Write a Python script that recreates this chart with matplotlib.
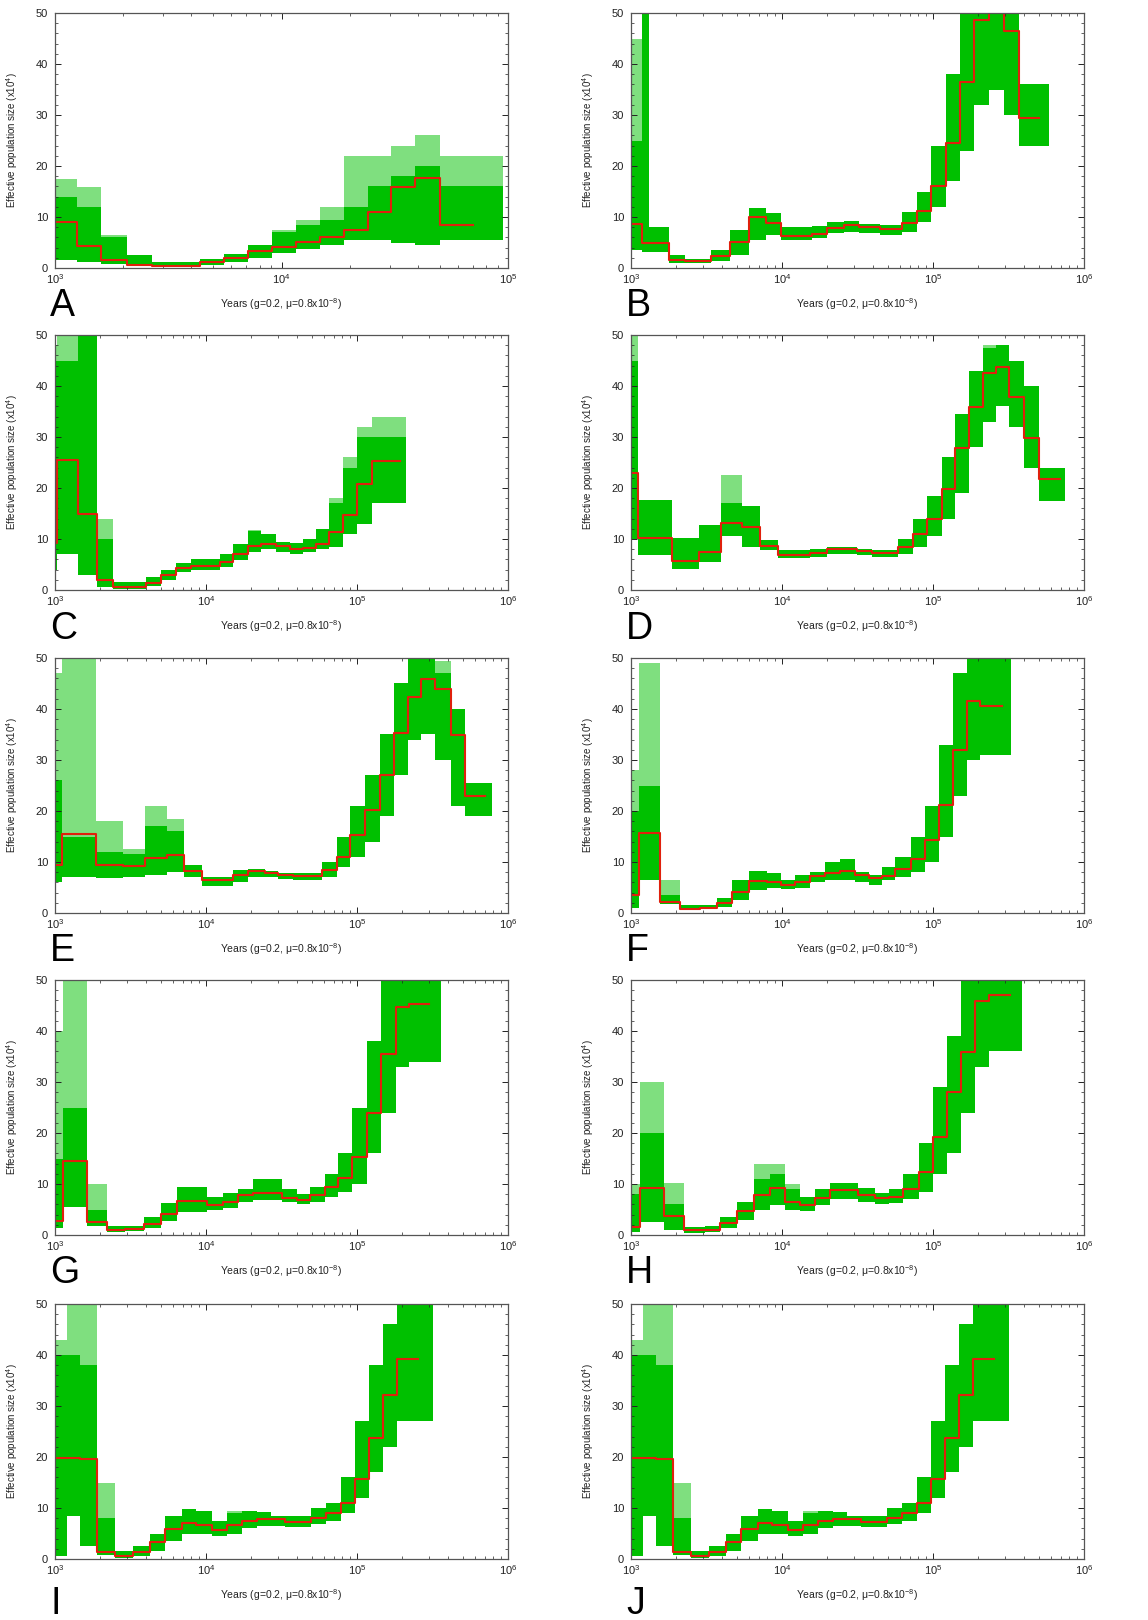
import matplotlib
matplotlib.use("Agg")
import matplotlib.pyplot as plt
from matplotlib.ticker import LogLocator, NullFormatter, MultipleLocator

plt.rcParams['font.family'] = ['Liberation Sans', 'DejaVu Sans']
plt.rcParams['mathtext.fontset'] = 'custom'
plt.rcParams['mathtext.rm'] = 'Liberation Sans'
plt.rcParams['mathtext.it'] = 'Liberation Sans:italic'

GREEN = '#00c000'
RED = '#e0200c'

# t = step start times (years, last = end of red line), ne = red line (x10^4)
# lo/hi = dense part of the bootstrap bundle, top = sparse upper outliers
A_t = [1000, 1250, 1600, 2070, 2670, 4360, 5570, 7080, 9100, 11600, 14800, 18800, 24000, 30500, 39000, 50000, 70000]
A_ne = [9.1, 4.4, 1.6, 0.65, 0.4, 1.2, 2.0, 3.3, 4.2, 5.1, 6.1, 7.5, 11.0, 15.9, 17.7, 8.5]
A_lo = [1.5, 1.2, 0.8, 0.3, 0.1, 0.6, 1.2, 2.0, 3.0, 3.8, 4.5, 5.5, 5.5, 5.0, 4.5, 5.5]
A_hi = [14, 12, 6, 2.5, 1.2, 1.8, 2.8, 4.5, 7.0, 8.5, 9.5, 12, 16, 18, 20, 16]
A_top = [17.5, 15.9, 6.5, 2.5, 1.2, 1.8, 2.8, 4.5, 7.4, 9.5, 12, 22, 22, 24, 26, 22]
A_gend = 95000

B_t = [1000, 1180, 1310, 1780, 2290, 3410, 4550, 6080, 7890, 9910, 15800, 19900, 25700, 32300, 44900, 62500, 78500,
       97300, 121000, 152000, 187000, 235000, 295000, 371000, 503000]
B_ne = [8.7, 4.9, 4.9, 1.6, 1.3, 2.3, 5.1, 10.0, 8.9, 6.3, 6.6, 7.8, 8.4, 8.0, 7.6, 8.8, 11.1, 16.0, 24.6, 36.5, 48.6,
        58, 46.5, 29.5]
B_lo = [3.5, 3.2, 3.2, 1.0, 0.9, 1.3, 2.5, 5.5, 6.5, 5.5, 5.8, 6.8, 7.0, 6.8, 6.5, 7.0, 9.0, 12, 17, 23, 32, 35, 30, 24]
B_hi = [25, 60, 8.0, 2.5, 1.8, 3.5, 7.5, 11.8, 10.8, 8.0, 8.3, 9.0, 9.2, 8.7, 8.5, 11, 15, 24, 38, 55, 60, 60, 60, 36]
B_top = [45, 60, 8.0, 2.5, 1.8, 3.5, 7.5, 11.8, 10.8, 8.0, 8.3, 9.0, 9.2, 8.7, 8.5, 11, 15, 24, 38, 55, 60, 60, 60, 36]
B_gend = 586000

C_t = [1000, 1036, 1428, 1907, 2435, 4000, 5030, 6300, 7910, 12400, 15100, 19000, 23300, 29100, 35800, 44000, 53800,
       65600, 81200, 100500, 125000, 192000]
C_ne = [9.3, 25.5, 15.0, 2.0, 0.6, 1.4, 2.9, 4.4, 4.8, 5.5, 7.1, 8.6, 9.1, 8.6, 8.1, 8.3, 9.1, 11.3, 14.8, 20.7, 25.2]
C_lo = [4, 7, 3, 0.5, 0.2, 0.8, 2.0, 3.5, 4.0, 4.5, 5.8, 7.5, 8.0, 7.5, 7.0, 7.5, 8.0, 8.5, 11, 13, 17]
C_hi = [45, 45, 50, 10, 1.5, 2.5, 4.0, 5.2, 6.0, 7.0, 9.0, 11.5, 11.0, 9.5, 9.3, 10.0, 12.0, 17, 24, 30, 30]
C_top = [48, 55, 55, 14, 1.5, 2.5, 4.0, 5.2, 6.0, 7.0, 9.0, 11.8, 11.0, 9.5, 9.3, 10.0, 12.0, 18, 26, 32, 34]
C_gend = 212000

D_t = [1000, 1107, 1868, 2806, 3960, 5430, 7170, 9350, 15400, 19800, 31400, 39300, 58800, 73700, 91100, 114600,
       140600, 172000, 214000, 263000, 320000, 402000, 501000, 697000]
D_ne = [23.0, 10.1, 5.6, 7.5, 13.1, 12.4, 8.6, 6.9, 7.3, 8.0, 7.6, 7.2, 8.4, 11.0, 14.0, 19.9, 27.9, 35.9, 42.6, 43.7,
        37.8, 29.9, 21.7]
D_lo = [10, 6.8, 4.2, 5.5, 10.5, 8.5, 7.8, 6.2, 6.5, 7.0, 6.8, 6.5, 7.0, 8.5, 10.5, 14, 19, 28, 33, 36, 32, 24, 17.5]
D_hi = [45, 17.7, 10.2, 12.7, 17, 16.5, 9.8, 7.8, 8.0, 8.5, 8.0, 7.8, 10.0, 14, 18.5, 26, 34.5, 43, 47.5, 48, 45, 40, 24]
D_top = [55, 17.7, 10.2, 12.7, 22.5, 16.5, 9.8, 7.8, 8.0, 8.5, 8.0, 7.8, 10.0, 14, 18.5, 26, 34.5, 43, 48, 48, 45, 40, 24]
D_gend = 752000

E_t = [1000, 1107, 1868, 2835, 3945, 5490, 7170, 9350, 15100, 19000, 24500, 30000, 37700, 58800, 73300, 89400,
       112900, 141300, 175200, 219000, 265000, 328500, 417000, 519000, 704000]
E_ne = [9.4, 15.4, 9.5, 9.3, 10.7, 11.4, 8.3, 6.4, 7.5, 8.2, 7.9, 7.4, 7.2, 8.4, 11.0, 15.3, 20.2, 27.1, 35.3, 42.3,
        45.9, 43.9, 34.9, 22.9]
E_lo = [6, 7, 6.8, 7, 7.5, 8, 7, 5.2, 6.0, 7.0, 7.0, 6.7, 6.5, 7, 9, 11, 14, 19, 27, 34, 35, 30, 21, 19]
E_hi = [26, 15, 12, 11.5, 17, 16, 9.5, 7.0, 8.5, 8.7, 8.3, 7.8, 7.8, 10, 15, 21, 27, 35, 45, 50, 50, 47, 40, 25.5]
E_top = [47, 50, 18, 12.5, 21, 18.5, 9.5, 7.0, 8.5, 8.7, 8.3, 7.8, 7.8, 10, 15, 21, 27, 35, 45, 52, 52, 49.5, 40, 25.5]
E_gend = 779000

F_t = [1000, 1136, 1548, 2099, 2880, 3710, 4660, 6010, 7940, 9850, 12260, 15380, 19360, 24250, 30300, 37500, 45900,
       56300, 71500, 89000, 109000, 135700, 166700, 206100, 286000]
F_ne = [3.5, 15.7, 2.2, 0.85, 1.0, 2.0, 4.1, 6.3, 6.1, 5.4, 6.0, 7.3, 7.9, 8.3, 7.5, 6.8, 7.3, 8.7, 10.6, 14.3, 21.2,
        32.0, 41.6, 40.5]
F_lo = [1.0, 6.5, 1.8, 0.5, 0.7, 1.2, 2.5, 4.5, 5.0, 4.8, 5.0, 6.0, 6.5, 6.5, 6.0, 5.5, 6.5, 7.0, 8.0, 10, 15, 23, 30, 31]
F_hi = [20, 25, 3.5, 1.5, 1.5, 3.0, 6.5, 8.2, 7.8, 6.5, 7.5, 8.0, 10, 10.5, 8.0, 7.5, 9.0, 11, 15, 21, 33, 47, 52, 52]
F_top = [28, 49, 6.5, 1.5, 1.5, 3.0, 6.5, 8.2, 7.8, 6.5, 7.5, 8.0, 10, 10.5, 8.0, 7.5, 9.0, 11, 15, 21, 33, 47, 52, 52]
F_gend = 328500

G_t = [1000, 1136, 1637, 2219, 2906, 3883, 5030, 6389, 10100, 12900, 16400, 20500, 31700, 39800, 48700, 61400,
       75200, 92000, 115900, 143500, 180400, 220000, 300300]
G_ne = [2.7, 14.5, 2.6, 0.9, 1.2, 2.2, 4.2, 6.6, 5.9, 6.5, 7.8, 8.2, 7.3, 6.8, 7.9, 9.4, 11.1, 15.3, 24.0, 35.5, 44.8,
        45.3]
G_lo = [1.3, 5.5, 1.8, 0.6, 0.8, 1.4, 2.8, 4.5, 5.0, 5.2, 6.5, 6.8, 6.5, 6.0, 6.5, 7.5, 8.5, 10, 16, 24, 33, 34]
G_hi = [15, 25, 5, 1.8, 1.8, 3.5, 6.3, 9.5, 7.5, 8.3, 9.0, 11, 9.0, 8.0, 9.5, 12, 16, 25, 38, 55, 55, 55]
G_top = [40, 55, 10, 1.8, 1.8, 3.5, 6.3, 9.5, 7.5, 8.3, 9.0, 11, 9.0, 8.0, 9.5, 12, 16, 25, 38, 55, 55, 55]
G_gend = 358000

H_t = [1000, 1153, 1645, 2234, 3105, 3906, 5030, 6490, 8267, 10530, 13210, 16600, 20900, 32040, 41390, 50900,
       63300, 80400, 100000, 123800, 154000, 190600, 235000, 325000]
H_ne = [1.5, 9.2, 3.7, 0.9, 1.0, 2.4, 4.7, 7.8, 9.2, 6.5, 5.8, 7.3, 8.8, 7.8, 7.2, 7.5, 9.0, 12.3, 19.3, 28.1, 35.9,
        45.9, 47.1]
H_lo = [0.5, 2.5, 1.0, 0.3, 0.5, 1.3, 3.0, 5.0, 5.8, 5.0, 4.8, 5.8, 7.0, 6.5, 6.0, 6.3, 7.0, 8.5, 12, 16, 24, 33, 36]
H_hi = [8, 20, 6, 1.5, 1.8, 3.5, 6.5, 11, 12, 9, 7.5, 9.0, 10.2, 9.3, 8.3, 9.0, 12, 18, 29, 39, 55, 55, 55]
H_top = [10, 30, 10.2, 1.5, 1.8, 3.5, 6.5, 14, 14, 10, 7.5, 9.0, 10.2, 9.3, 8.3, 9.0, 12, 18, 29, 39, 55, 55, 55]
H_gend = 388000

I_t = [1000, 1195, 1464, 1888, 2497, 3266, 4256, 5350, 6891, 8650, 10920, 13710, 17220, 21650, 26800, 33400,
       49920, 62740, 78000, 97000, 120700, 149400, 185000, 252000]
I_ne = [19.8, 19.8, 19.6, 1.3, 0.65, 1.3, 3.4, 5.9, 7.1, 6.6, 5.7, 6.6, 7.5, 7.9, 7.8, 7.3, 8.0, 9.0, 11.0, 15.7,
        23.7, 32.2, 39.2]
I_lo = [0.5, 8.5, 2.5, 0.8, 0.2, 0.5, 1.5, 3.5, 5, 5, 4.5, 5, 6, 6.5, 6.5, 6.3, 6.8, 7.5, 9, 12, 17, 22, 27]
I_hi = [40, 40, 38, 8, 1.5, 2.5, 5, 8.5, 9.8, 9.5, 7.5, 9.0, 9.5, 9.2, 8.5, 8.5, 10, 11, 16, 27, 38, 46, 52]
I_top = [43, 50, 50, 15, 1.5, 2.5, 5, 8.5, 9.8, 9.5, 7.5, 9.5, 9.5, 9.2, 8.5, 8.5, 10, 11, 16, 27, 38, 46, 52]
I_gend = 320000

# panel J shows the same run as panel I
J_t, J_ne, J_lo, J_hi, J_top, J_gend = I_t, I_ne, I_lo, I_hi, I_top, I_gend

panels = [
    ('A', A_t, A_ne, A_lo, A_hi, A_top, A_gend, 1e5),
    ('B', B_t, B_ne, B_lo, B_hi, B_top, B_gend, 1e6),
    ('C', C_t, C_ne, C_lo, C_hi, C_top, C_gend, 1e6),
    ('D', D_t, D_ne, D_lo, D_hi, D_top, D_gend, 1e6),
    ('E', E_t, E_ne, E_lo, E_hi, E_top, E_gend, 1e6),
    ('F', F_t, F_ne, F_lo, F_hi, F_top, F_gend, 1e6),
    ('G', G_t, G_ne, G_lo, G_hi, G_top, G_gend, 1e6),
    ('H', H_t, H_ne, H_lo, H_hi, H_top, H_gend, 1e6),
    ('I', I_t, I_ne, I_lo, I_hi, I_top, I_gend, 1e6),
    ('J', J_t, J_ne, J_lo, J_hi, J_top, J_gend, 1e6),
]

W, H = 1148, 1620
fig = plt.figure(figsize=(W / 100, H / 100), dpi=100)

col_left = [55, 631]
row_top = [13, 335, 658, 980, 1304]
ax_w, ax_h = 453, 255
letter_base = [316, 639, 961, 1283, 1614]

for k, (letter, t, ne, lo, hi, top, gend, xmax) in enumerate(panels):
    r, c = divmod(k, 2)
    x0 = col_left[c]
    y0 = row_top[r]
    ax = fig.add_axes([x0 / W, 1 - (y0 + ax_h) / H, ax_w / W, ax_h / H])

    # bootstrap bundle: green bands, running past the end of the red line
    xg = t[:-1] + [gend]
    ax.fill_between(xg, lo + [lo[-1]], top + [top[-1]], step='post', color=GREEN, alpha=0.5, lw=0)
    ax.fill_between(xg, lo + [lo[-1]], hi + [hi[-1]], step='post', color=GREEN, lw=0)
    # main estimate
    ax.step(t, ne + [ne[-1]], where='post', color=RED, lw=1.5)

    ax.set_xscale('log')
    ax.set_xlim(1e3, xmax)
    ax.set_ylim(0, 50)
    ax.yaxis.set_major_locator(MultipleLocator(10))
    ax.yaxis.set_minor_locator(MultipleLocator(2))
    ax.xaxis.set_major_locator(LogLocator(base=10))
    ax.xaxis.set_minor_locator(LogLocator(base=10, subs=range(2, 10)))
    ax.xaxis.set_minor_formatter(NullFormatter())

    ax.tick_params(which='both', direction='in', top=True, right=True, labelsize=8, colors='#222222')
    ax.tick_params(which='major', length=4, width=0.7)
    ax.tick_params(which='minor', length=2, width=0.5)
    ax.tick_params(axis='x', pad=3)
    ax.tick_params(axis='y', pad=5)
    for s in ax.spines.values():
        s.set_color('#555555')
        s.set_linewidth(0.9)

    ax.set_xlabel('Years (g=0.2, \u03bc=0.8x10$^{-8}$)', fontsize=7.5, color='#222222')
    ax.xaxis.set_label_coords(0.5, -0.112)
    ax.set_ylabel('Effective population size (x10$^{4}$)', fontsize=7, color='#222222')
    ax.yaxis.set_label_coords(-0.078, 0.5)

    fig.text((x0 - 5) / W, 1 - letter_base[r] / H, letter, fontsize=27, va='baseline', ha='left')

fig.savefig('out.png', dpi=100)
